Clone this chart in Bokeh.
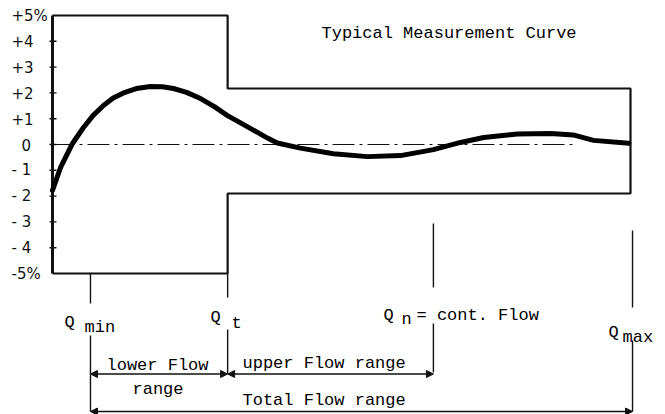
from bokeh.plotting import figure
from bokeh.models import Range1d, Arrow, NormalHead
from bokeh.core.properties import value
from bokeh.embed import file_html
from bokeh.resources import INLINE

# ---------------- data (flow in % of the tolerance band width, error in %) ----------------
curve_flow = [0, 1.38, 3.46, 5.36, 7.0, 8.82, 10.5, 12.28, 14.5, 16.96, 19.0, 20.93, 23.2,
              25.61, 28.0, 30.28, 33.0, 35.47, 37.2, 38.9, 42.9, 48.6, 54.5, 60.2, 65.9,
              70.6, 74.6, 80.4, 86.2, 90.1, 93.6, 99.7]
curve_error = [-1.78, -0.9, 0.04, 0.66, 1.12, 1.51, 1.8, 2.0, 2.17, 2.25, 2.24, 2.17, 2.02,
               1.78, 1.47, 1.12, 0.78, 0.47, 0.25, 0.06, -0.14, -0.36, -0.47, -0.43, -0.2,
               0.08, 0.27, 0.41, 0.43, 0.37, 0.16, 0.05]

tick_values = [5, 4, 3, 2, 1, 0, -1, -2, -3, -4, -5]
tick_labels = ["+5%", "+4", "+3", "+2", "+1", "0", "- 1", "- 2", "- 3", "- 4", "-5%"]

q_min, q_t, q_n, q_max = 6.57, 30.3, 65.9, 100.35
flow_end = 100.0
limit_lower_range = 5.0        # +/- 5 % below Qt
limit_upper_hi = 2.17          # upper limit above Qt
limit_upper_lo = -1.9          # lower limit above Qt
zero_line_end = 90.5

title_text = "Typical Measurement Curve"

# ---------------- page geometry helpers ----------------
W, H = 665, 414
def ux(px):   # picture pixel -> flow units
    return (px - 52) / 5.78
def uy(py):   # picture pixel -> error %
    return (144 - py) / 25.8

p = figure(width=W, height=H, output_backend="svg", toolbar_location=None,
           x_range=Range1d(ux(0), ux(W)), y_range=Range1d(uy(H), uy(0)),
           x_axis_location=None, y_axis_location=None, min_border=0)
p.grid.visible = False
p.outline_line_color = None
p.background_fill_color = "white"
p.border_fill_color = "white"

INK = "#111111"
mono = value("Liberation Mono")

# zero reference line
p.line([0, zero_line_end], [0, 0], line_color=INK, line_width=1, line_dash="22 5 3 5")

# tolerance band outline
band_x = [0, q_t, q_t, flow_end, flow_end, q_t, q_t, 0]
band_y = [limit_lower_range, limit_lower_range, limit_upper_hi, limit_upper_hi,
          limit_upper_lo, limit_upper_lo, -limit_lower_range, -limit_lower_range]
p.line(band_x, band_y, line_color=INK, line_width=2.2)

# vertical error axis with crossing ticks
p.line([0, 0], [tick_values[0], tick_values[-1]], line_color=INK, line_width=3)
tv = [t for t in tick_values if abs(t) < 5]
p.segment(x0=[ux(49)] * len(tv), y0=tv, x1=[ux(56)] * len(tv), y1=tv,
          line_color=INK, line_width=1.4)
lab_x = [ux(11) if lab != "0" else ux(21) for lab in tick_labels]
p.text(x=lab_x, y=tick_values, text=tick_labels, text_font=value("DejaVu Sans"),
       text_font_size="15px", text_align="left", text_baseline="middle", text_color=INK)

# measurement curve
p.line(curve_flow, curve_error, line_color="black", line_width=5,
       line_cap="round", line_join="round")

# flow marker lines (with gaps for the labels)
seg_x = [q_min, q_min, q_t, q_t, q_n, q_n, q_max, q_max]
seg_y0 = [-limit_lower_range, uy(335), -limit_lower_range, uy(329), uy(223), uy(323), uy(230), uy(340)]
seg_y1 = [uy(303), uy(411), uy(297), uy(373), uy(287), uy(372), uy(307), uy(411)]
p.segment(x0=seg_x, y0=seg_y0, x1=seg_x, y1=seg_y1, line_color=INK, line_width=1.4)

# range arrows
def head():
    return NormalHead(size=7, fill_color=INK, line_color=INK, line_width=1)
arrow_y_sub = uy(373.5)
arrow_y_tot = uy(411)
for xs, xe, yy in [(q_min, q_t, arrow_y_sub), (q_t, q_n, arrow_y_sub), (q_min, q_max, arrow_y_tot)]:
    p.add_layout(Arrow(start=head(), end=head(), x_start=xs, y_start=yy, x_end=xe, y_end=yy,
                       line_color=INK, line_width=1.4))

# labels
def txt(x, y, s):
    p.text(x=[ux(x)], y=[uy(y)], text=[s], text_font=mono, text_font_size="17px",
           text_align="left", text_baseline="alphabetic", text_color="black")

txt(321, 33, title_text)
txt(64, 322, "Q"); txt(84, 327, "min")
txt(210, 317, "Q"); txt(231, 323, "t")
txt(383, 315, "Q"); txt(401, 319, "n"); txt(416, 315, "= cont. Flow")
txt(608, 332, "Q"); txt(622, 337, "max")
txt(106, 365, "lower Flow")
txt(132, 389, "range")
txt(242, 363, "upper Flow range")
txt(242, 400, "Total Flow range")

open("out.html", "w").write(file_html(p, INLINE))
